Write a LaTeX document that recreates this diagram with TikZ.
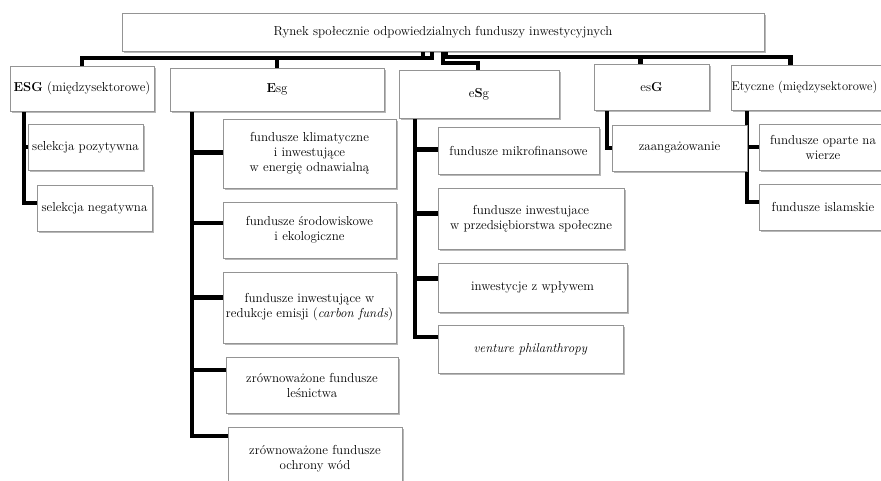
\documentclass[tikz,border=0pt]{standalone}
\usetikzlibrary{shadows,backgrounds}
\begin{document}
\tikzset{
  box/.style={draw=black!42, line width=0.7pt, fill=white, inner sep=0pt,
    align=center, text=black, font=\fontsize{13}{15}\selectfont,
    drop shadow={shadow xshift=1.6pt, shadow yshift=-2pt, opacity=0.28, fill=black}},
  conn/.style={line width=4.2pt, black},
}
\begin{tikzpicture}[x=1pt,y=-1pt]
\useasboundingbox (0,0) rectangle (881,481);
\clip (0,0) rectangle (881,481);

% root
\node[box, minimum width=642pt, minimum height=38pt] (root) at (443,32)
  {Rynek społecznie odpowiedzialnych funduszy inwestycyjnych};

% first level
\node[box, minimum width=144pt, minimum height=45pt] (esgall) at (82,88.5) {\textbf{ESG} (międzysektorowe)};
\node[box, minimum width=214pt, minimum height=43pt] (env) at (277,89.5) {\textbf{E}sg};
\node[box, minimum width=160pt, minimum height=48pt] (soc) at (479,94) {e\textbf{S}g};
\node[box, minimum width=115pt, minimum height=46pt] (gov) at (651.5,87) {es\textbf{G}};
\node[box, minimum width=155pt, minimum height=45pt, font=\fontsize{12.5}{15}\selectfont] (eth) at (808.5,87.5)
  {\hspace*{-8pt}Etyczne (międzysektorowe)};

% ESG children
\node[box, minimum width=115pt, minimum height=46pt] (selpos) at (85.5,147) {selekcja pozytywna};
\node[box, minimum width=115pt, minimum height=46pt] (selneg) at (94.5,208) {selekcja negatywna};

% Esg children
\node[box, minimum width=173pt, minimum height=69pt] (klim) at (309.5,153.5)
  {fundusze klimatyczne\\ i inwestujące\\ w energię odnawialną};
\node[box, minimum width=173pt, minimum height=56pt] (srod) at (309.5,230)
  {fundusze środowiskowe\\ i ekologiczne};
\node[box, minimum width=173pt, minimum height=71pt] (redu) at (309.5,307.5)
  {fundusze inwestujące w\\ redukcje emisji (\textit{carbon funds})};
\node[box, minimum width=172pt, minimum height=56pt] (lesn) at (312,385)
  {zrównoważone fundusze\\ leśnictwa};
\node[box, minimum width=174pt, minimum height=64pt] (wod) at (315,459)
  {zrównoważone fundusze\\ ochrony wód};

% eSg children
\node[box, minimum width=161pt, minimum height=47pt] (mikro) at (518.5,150.5) {fundusze mikrofinansowe};
\node[box, minimum width=186pt, minimum height=61pt] (przed) at (531,218.5)
  {fundusze inwestujace\\ w przedsiębiorstwa społeczne};
\node[box, minimum width=189pt, minimum height=49pt] (wplyw) at (532.5,287.5) {inwestycje z wpływem};
\node[box, minimum width=185pt, minimum height=48pt] (vent) at (530.5,349) {\textit{venture philanthropy}};

% esG child
\node[box, minimum width=135pt, minimum height=46pt] (zaang) at (679.5,148) {zaangażowanie};

% Etyczne children
\node[box, minimum width=128pt, minimum height=46pt] (wiara) at (823,147) {fundusze oparte na\\ wierze};
\node[box, minimum width=128pt, minimum height=46pt] (islam) at (823,207) {fundusze islamskie};

\begin{scope}[on background layer]
  % buses below the root
  \draw[conn] ([xshift=-11pt]root.south) -- ([xshift=-11pt,yshift=-7pt]root.south) -| (esgall.north);
  \draw[conn] ([xshift=-11pt,yshift=-7pt]root.south) -| (env.north);
  \draw[conn] ([xshift=-20pt]root.south) -- ([xshift=-20pt,yshift=-7pt]root.south);
  \draw[conn] (root.south) -- ([yshift=-12pt]root.south) -| ([xshift=-1pt]soc.north);
  \draw[conn] ([xshift=3pt]root.south) -- ([xshift=3pt,yshift=-6pt]root.south) -| ([xshift=-11pt]gov.north);
  \draw[conn] ([xshift=3pt,yshift=-6pt]root.south) -| ([xshift=-18pt]eth.north);

  % ESG column
  \draw[conn] ([xshift=14pt]esgall.south west) |- (selpos.west);
  \draw[conn] ([xshift=14pt]esgall.south west) |- ([yshift=5pt]selneg.west);

  % Esg column
  \draw[conn] ([xshift=22pt]env.south west) |- ([yshift=1pt]klim.west);
  \draw[conn] ([xshift=22pt]env.south west) |- ([yshift=7pt]srod.west);
  \draw[conn] ([xshift=22pt]env.south west) |- ([yshift=10pt]redu.west);
  \draw[conn] ([xshift=22pt]env.south west) |- ([yshift=15pt]lesn.west);
  \draw[conn] ([xshift=22pt]env.south west) |- ([yshift=23pt]wod.west);

  % eSg column
  \draw[conn] ([xshift=16pt]soc.south west) |- ([yshift=1pt]mikro.west);
  \draw[conn] ([xshift=16pt]soc.south west) |- ([yshift=5pt]przed.west);
  \draw[conn] ([xshift=16pt]soc.south west) |- ([yshift=9pt]wplyw.west);
  \draw[conn] ([xshift=16pt]soc.south west) |- ([yshift=12pt]vent.west);

  % esG column
  \draw[conn] ([xshift=13pt]gov.south west) |- (zaang.west);

  % Etyczne column
  \draw[conn] ([xshift=16pt]eth.south west) |- (wiara.west);
  \draw[conn] ([xshift=16pt]eth.south west) |- ([yshift=5pt]islam.west);
\end{scope}
\end{tikzpicture}
\end{document}
